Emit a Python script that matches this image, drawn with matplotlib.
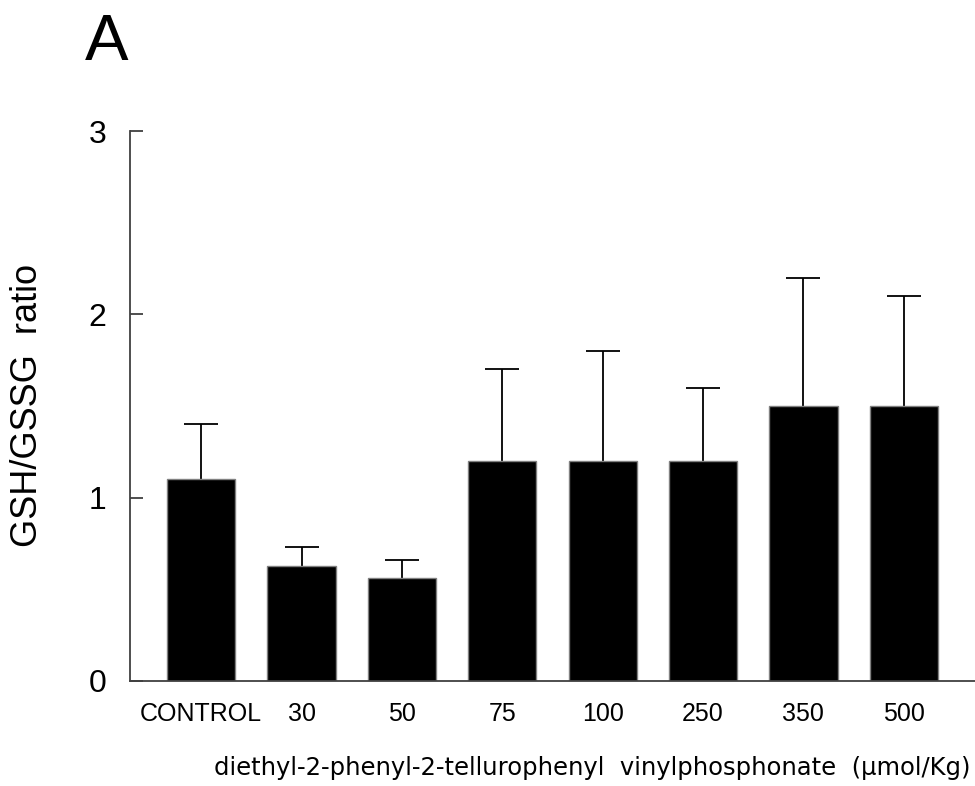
import matplotlib
matplotlib.use("Agg")
import matplotlib.pyplot as plt

# grupos (dosis en umol/Kg)
grupos = ["CONTROL", "30", "50", "75", "100", "250", "350", "500"]
ratio = [1.10, 0.63, 0.56, 1.20, 1.20, 1.20, 1.50, 1.50]
sd = [0.30, 0.10, 0.10, 0.50, 0.60, 0.40, 0.70, 0.60]

plt.rcParams['font.family'] = ['Liberation Sans', 'DejaVu Sans']

fig = plt.figure(figsize=(9.75, 7.86), dpi=100)
ax = fig.add_axes([130/975, 1 - 681/786, 1 - 130/975, (681 - 131)/786])

x = range(len(grupos))
ax.bar(x, ratio, width=0.68, color='black', edgecolor='#808080', linewidth=1,
       zorder=3)
eb = ax.errorbar(x, ratio, yerr=[[0]*len(sd), sd], fmt='none', ecolor='black',
                 elinewidth=1.3, capsize=12, capthick=1.3, zorder=2)
# solo la barra de error superior
eb[1][0].set_visible(False)

ax.set_xlim(-0.71, 7.71)
ax.set_ylim(0, 3)
ax.set_yticks([0, 1, 2, 3])
ax.set_xticks(list(x), grupos)

for s in ['top', 'right']:
    ax.spines[s].set_visible(False)
for s in ['left', 'bottom']:
    ax.spines[s].set_color('#404040')
    ax.spines[s].set_linewidth(1.3)
    ax.spines[s].set_zorder(4)

ax.tick_params(axis='y', direction='in', length=9, width=1.3, color='#404040',
               labelsize=23, pad=17)
ax.tick_params(axis='x', length=0, labelsize=18, pad=15)

# etiquetas de ejes
fig.text(28/975, 1 - 405/786, "GSH/GSSG  ratio", fontsize=26,
         rotation=90, ha='center', va='center')
fig.text(970/975, 1 - 768/786,
         "diethyl-2-phenyl-2-tellurophenyl  vinylphosphonate  (µmol/Kg)",
         fontsize=17.5, family=['DejaVu Sans'], ha='right', va='center')

fig.text(85/975, 1 - 60/786, "A", fontsize=47, ha='left', va='baseline')

fig.savefig("out.png", dpi=100)
